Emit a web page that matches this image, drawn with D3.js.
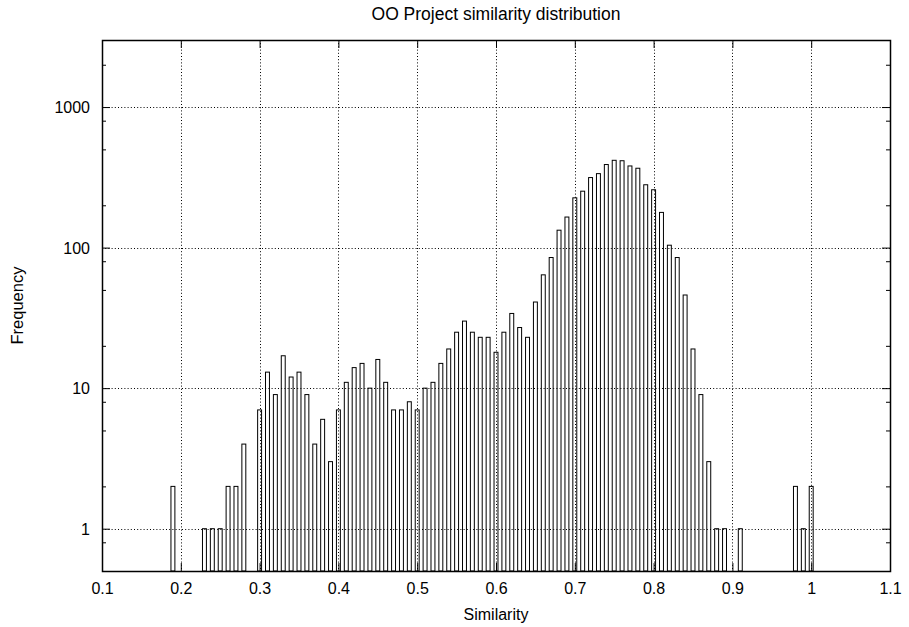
<!DOCTYPE html>
<html>
<head>
<meta charset="utf-8">
<script src="https://cdn.jsdelivr.net/npm/d3@7"></script>
<style>
  html, body { margin: 0; padding: 0; background: #fff; }
  svg text { font-family: "Liberation Sans", Arial, Helvetica, sans-serif; fill: #000; }
</style>
</head>
<body>
<svg id="chart" width="909" height="627"></svg>
<script>
// ---- data ----
const similarity = [0.19, 0.23, 0.24, 0.25, 0.26, 0.27, 0.28, 0.30, 0.31, 0.32, 0.33, 0.34, 0.35, 0.36, 0.37, 0.38, 0.39,
  0.40, 0.41, 0.42, 0.43, 0.44, 0.45, 0.46, 0.47, 0.48, 0.49, 0.50, 0.51, 0.52, 0.53, 0.54, 0.55, 0.56, 0.57, 0.58, 0.59,
  0.60, 0.61, 0.62, 0.63, 0.64, 0.65, 0.66, 0.67, 0.68, 0.69, 0.70, 0.71, 0.72, 0.73, 0.74, 0.75, 0.76, 0.77, 0.78, 0.79,
  0.80, 0.81, 0.82, 0.83, 0.84, 0.85, 0.86, 0.87, 0.88, 0.89, 0.91, 0.98, 0.99, 1.00];
const frequency = [2, 1, 1, 1, 2, 2, 4, 7, 13, 9, 17, 12, 13, 9, 4, 6, 3,
  7, 11, 14, 15, 10, 16, 11, 7, 7, 8, 7, 10, 11, 15, 19, 25, 30, 25, 23, 23,
  18, 25, 34, 27, 23, 41, 64, 85, 133, 165, 226, 252, 315, 336, 390, 418, 415, 381, 367, 280,
  258, 178, 104, 85, 46, 19, 9, 3, 1, 1, 1, 2, 1, 2];
const binWidth = 0.005;
const xTicks = [0.1, 0.2, 0.3, 0.4, 0.5, 0.6, 0.7, 0.8, 0.9, 1.0, 1.1];
const xTickLabels = ["0.1", "0.2", "0.3", "0.4", "0.5", "0.6", "0.7", "0.8", "0.9", "1", "1.1"];
const yTicks = [1, 10, 100, 1000];
const yTickLabels = ["1", "10", "100", "1000"];
const yMinorTicks = [0.8, 2, 5, 8, 20, 50, 80, 200, 500, 800, 2000];
const xDomain = [0.1, 1.1];
const yDomain = [0.5, 3000];
const title = "OO Project similarity distribution";
const xLabel = "Similarity";
const yLabel = "Frequency";

// ---- layout ----
const W = 909, H = 627;
const m = { left: 102, right: 19, top: 40, bottom: 56 };
const pw = W - m.left - m.right, ph = H - m.top - m.bottom;
const FS = 16;

const svg = d3.select("#chart");
const g = svg.append("g").attr("transform", `translate(${m.left},${m.top})`);

const x = d3.scaleLinear().domain(xDomain).range([0, pw]);
const y = d3.scaleLog().domain(yDomain).range([ph, 0]);

// grid
const grid = g.append("g").attr("class", "grid")
  .attr("stroke", "#000").attr("stroke-width", 1).attr("stroke-dasharray", "1,2.2");
grid.selectAll("line.gx").data(xTicks.slice(1, -1)).join("line")
  .attr("x1", d => Math.round(x(d)) + 0.5).attr("x2", d => Math.round(x(d)) + 0.5)
  .attr("y1", 0).attr("y2", ph);
grid.selectAll("line.gy").data(yTicks).join("line")
  .attr("y1", d => Math.round(y(d)) + 0.5).attr("y2", d => Math.round(y(d)) + 0.5)
  .attr("x1", 0).attr("x2", pw);

// bars
const data = similarity.map((s, i) => ({ s, f: frequency[i] }));
g.append("g").selectAll("rect").data(data).join("rect")
  .attr("x", d => x(d.s - binWidth / 2))
  .attr("width", d => x(d.s + binWidth / 2) - x(d.s - binWidth / 2))
  .attr("y", d => y(d.f))
  .attr("height", d => ph - y(d.f))
  .attr("fill", "none").attr("stroke", "#000").attr("stroke-width", 1);

// axes (inward ticks on all four sides)
const TL = 8, TLm = 4;
function styleAxis(sel) {
  sel.select(".domain").remove();
  sel.selectAll("line").attr("stroke", "#000").attr("stroke-width", 1);
  sel.selectAll("text").style("font-size", FS + "px");
}
const xAxis = d3.axisBottom(x).tickValues(xTicks).tickFormat((d, i) => xTickLabels[i])
  .tickSizeInner(-TL).tickSizeOuter(0).tickPadding(14);
g.append("g").attr("transform", `translate(0,${ph})`).call(xAxis).call(styleAxis)
  .selectAll("text").attr("y", 23).attr("dy", 0);
g.append("g").call(d3.axisTop(x).tickValues(xTicks).tickFormat("").tickSizeInner(-TL).tickSizeOuter(0))
  .call(styleAxis);

const yAxis = d3.axisLeft(y).tickValues(yTicks).tickFormat((d, i) => yTickLabels[i])
  .tickSizeInner(-TL).tickSizeOuter(0).tickPadding(12);
g.append("g").call(yAxis).call(styleAxis)
  .selectAll("text").attr("x", -12).attr("dy", "0.36em");
g.append("g").call(d3.axisLeft(y).tickValues(yMinorTicks).tickFormat("").tickSizeInner(-TLm).tickSizeOuter(0))
  .call(styleAxis);
g.append("g").attr("transform", `translate(${pw},0)`)
  .call(d3.axisRight(y).tickValues(yTicks).tickFormat("").tickSizeInner(-TL).tickSizeOuter(0)).call(styleAxis);
g.append("g").attr("transform", `translate(${pw},0)`)
  .call(d3.axisRight(y).tickValues(yMinorTicks).tickFormat("").tickSizeInner(-TLm).tickSizeOuter(0)).call(styleAxis);

// frame
g.append("rect").attr("x", 0.5).attr("y", 0.5).attr("width", pw).attr("height", ph)
  .attr("fill", "none").attr("stroke", "#000").attr("stroke-width", 1.5);

// titles
svg.append("text").attr("x", m.left + pw / 2).attr("y", 20).attr("text-anchor", "middle")
  .style("font-size", "17.5px").text(title);
svg.append("text").attr("x", m.left + pw / 2).attr("y", 620).attr("text-anchor", "middle")
  .style("font-size", FS + "px").text(xLabel);
svg.append("text").attr("transform", `translate(23,${m.top + ph / 2}) rotate(-90)`).attr("text-anchor", "middle")
  .style("font-size", "16.5px").text(yLabel);
</script>
</body>
</html>
